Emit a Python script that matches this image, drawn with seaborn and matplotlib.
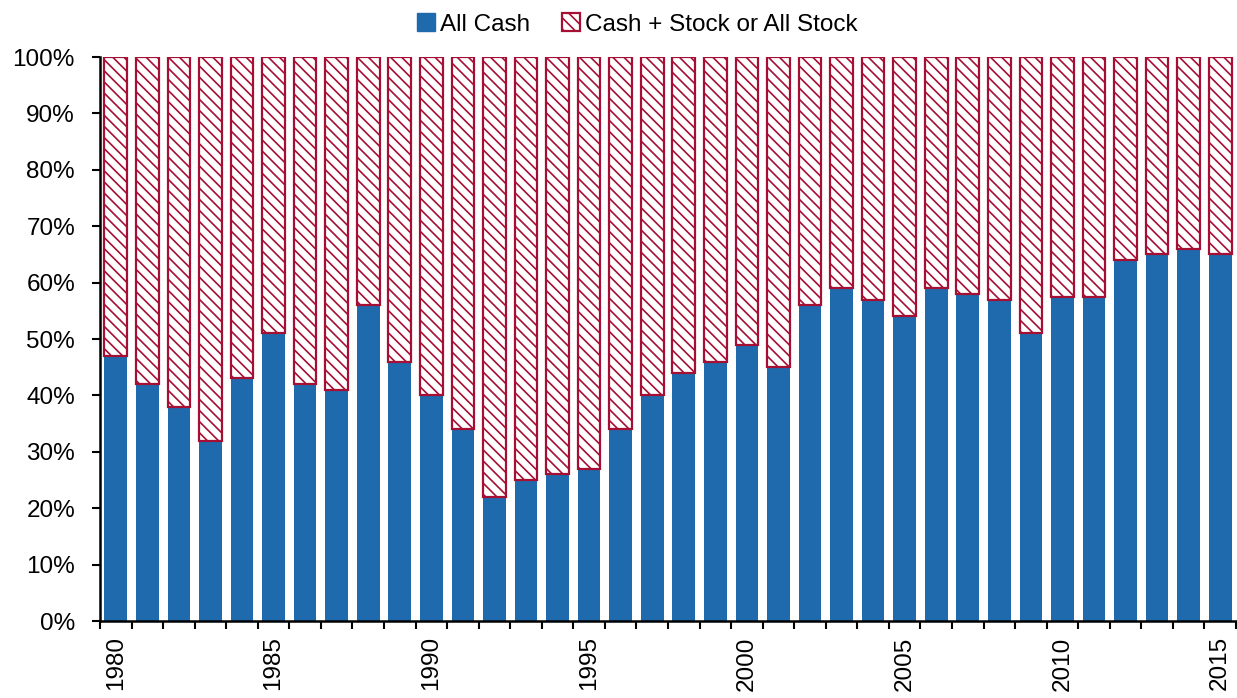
import matplotlib
matplotlib.use("Agg")
import matplotlib.pyplot as plt
import seaborn as sns
import pandas as pd
import numpy as np
from matplotlib.patches import Patch
from matplotlib.ticker import FixedLocator, FuncFormatter

years = list(range(1980, 2016))
all_cash = [47, 42, 38, 32, 43, 51, 42, 41, 56, 46,
            40, 34, 22, 25, 26, 27, 34, 40, 44, 46,
            49, 45, 56, 59, 57, 54, 59, 58, 57, 51,
            57.5, 57.5, 64, 65, 66, 65]
stock_share = [100 - v for v in all_cash]
year_labels = [str(y) if y % 5 == 0 else "" for y in years]

BLUE = "#1f6aad"
RED = "#a50f34"
FS = 17.5

sns.set_theme(style="white")
plt.rcParams["font.family"] = ["Liberation Sans", "DejaVu Sans"]
plt.rcParams["hatch.linewidth"] = 1.2
plt.rcParams["hatch.color"] = RED
plt.rcParams["text.color"] = "black"
plt.rcParams["xtick.color"] = "black"
plt.rcParams["ytick.color"] = "black"

df = pd.DataFrame({"year": [str(y) for y in years], "cash": all_cash, "stock": stock_share})

fig = plt.figure(figsize=(12.37, 6.98), dpi=100)
ax = fig.add_axes([100 / 1237, 1 - 621 / 698, 1 - 100 / 1237 - 0.0008, (621 - 57) / 698])

sns.barplot(data=df, x="year", y="cash", color=BLUE, saturation=1, width=0.72,
            edgecolor=BLUE, linewidth=0, ax=ax)
sns.barplot(data=df, x="year", y="stock", color="white", saturation=1, width=0.72,
            edgecolor=RED, linewidth=1.6, hatch="\\\\\\", bottom=all_cash, ax=ax)

ax.set_xlim(-0.5, len(years) - 0.5)
ax.set_ylim(0, 100)
ax.set_yticks(np.arange(0, 101, 10))
ax.yaxis.set_major_formatter(FuncFormatter(lambda v, p: f"{int(v)}%"))
ax.set_xticks(range(len(years)))
ax.set_xticklabels(year_labels, rotation=90, fontsize=FS)
ax.xaxis.set_minor_locator(FixedLocator(np.arange(-0.5, len(years), 1)))
ax.tick_params(axis="x", which="major", length=0, pad=11, labelcolor="black")
ax.tick_params(axis="x", which="minor", length=6, width=1.5, color="black", bottom=True)
ax.tick_params(axis="y", length=6, width=1.5, color="black", labelsize=FS, left=True, pad=12,
               labelcolor="black")
ax.set_xlabel("")
ax.set_ylabel("")
for s in ["top", "right"]:
    ax.spines[s].set_visible(False)
for s in ["left", "bottom"]:
    ax.spines[s].set_color("black")
    ax.spines[s].set_linewidth(1.8)

handles = [Patch(facecolor=BLUE, edgecolor=BLUE, label="All Cash"),
           Patch(facecolor="white", edgecolor=RED, hatch="\\\\\\", linewidth=1.6,
                 label="Cash + Stock or All Stock")]
leg = fig.legend(handles=handles, loc="upper center", bbox_to_anchor=(0.515, 1.012), ncol=2,
                 frameon=False, fontsize=FS, handlelength=0.75, handleheight=0.75,
                 handletextpad=0.2, columnspacing=1.3)
for t in leg.get_texts():
    t.set_color("black")

fig.savefig("out.png", dpi=100)
